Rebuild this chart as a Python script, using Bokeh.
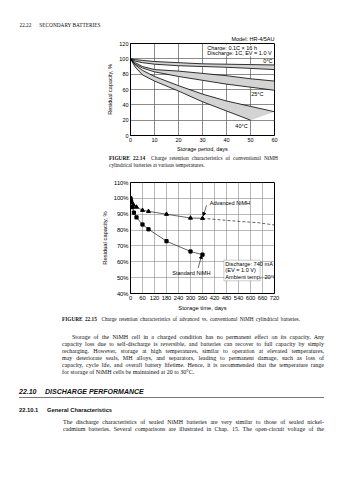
from bokeh.plotting import figure
from bokeh.models import Div, Label, Arrow, NormalHead, BoxAnnotation, FixedTicker, Range1d, Title
from bokeh.layouts import column
from bokeh.embed import file_html
from bokeh.resources import INLINE

# ---------------- Figure 22.14 data (conventional NiMH, HR-4/5AU) ----------------
days14 = [0, 2, 5, 10, 20, 30, 40, 50, 60]
t0_hi = [100, 99, 98, 96.5, 95, 93.5, 93, 92.5, 92]
t0_lo = [100, 97, 95, 93, 91, 90, 89, 87.5, 86]
t25_hi = [100, 95, 90, 86, 84, 81, 78, 74, 71]
t25_lo = [100, 93, 88, 83, 77, 72, 67, 63, 59]
t40_hi = [100, 92, 85, 77, 65, 54, 45, 38, 31]
days40_lo = [0, 2, 5, 10, 20, 30, 40, 50]
t40_lo = [100, 89, 79, 71, 58, 44, 32, 20]
x14_ticks = [0, 10, 20, 30, 40, 50, 60]
y14_ticks = [0, 20, 40, 60, 80, 100, 120]

# ---------------- Figure 22.15 data (advanced vs standard NiMH) ----------------
adv_days = [0, 7, 14, 30, 60, 90, 180, 300, 360]
adv_vals = [100, 97.5, 96, 94.5, 92.5, 91.8, 90, 87.6, 87.4]
adv_proj_days = [360, 510, 640, 720]
adv_proj_vals = [87.4, 85.8, 84.6, 83.2]
std_days = [0, 3, 10, 17, 30, 60, 90, 180, 300, 360]
std_vals = [100, 98, 94.5, 91, 88, 83.5, 80.5, 73, 66.5, 64.5]
x15_ticks = [0, 60, 120, 180, 240, 300, 360, 420, 480, 540, 600, 660, 720]
y15_ticks = [40, 50, 60, 70, 80, 90, 100, 110]
y15_labels = ["40%", "50%", "60%", "70%", "80%", "90%", "100%", "110%"]

# ---------------- page texts ----------------
header_text = "22.22\u2003\u2002SECONDARY BATTERIES"
cap14_num = "FIGURE 22.14"
cap14_l1 = "Charge retention characteristics of conventional NiMH"
cap14_l2 = "cylindrical batteries at various temperatures."
cap15_num = "FIGURE 22.15"
cap15_txt = "Charge retention characteristics of advanced vs. conventional NiMH cylindrical batteries."
body_lines = [
    "Storage of the NiMH cell in a charged condition has no permanent effect on its capacity. Any",
    "capacity loss due to self-discharge is reversible, and batteries can recover to full capacity by simply",
    "recharging. However, storage at high temperatures, similar to operation at elevated temperatures,",
    "may deteriorate seals, MH alloys, and separators, leading to permanent damage, such as loss of",
    "capacity, cycle life, and overall battery lifetime. Hence, it is recommended that the temperature range",
    "for storage of NiMH cells be maintained at 20 to 30\u00b0C.",
]
sec_num = "22.10"
sec_title = "DISCHARGE PERFORMANCE"
sub_num = "22.10.1"
sub_title = "General Characteristics"
para2_lines = [
    "The discharge characteristics of sealed NiMH batteries are very similar to those of sealed nickel-",
    "cadmium batteries. Several comparisons are illustrated in Chap. 15. The open-circuit voltage of the",
]

SANS = "Liberation Sans"
SERIF = "Liberation Serif"


def style_axes(p, fs):
    for ax in (p.xaxis, p.yaxis):
        ax.major_label_text_font = SANS
        ax.major_label_text_font_size = fs
        ax.major_label_text_color = "black"
        ax.axis_label_text_font = SANS
        ax.axis_label_text_font_size = fs
        ax.axis_label_text_font_style = "normal"
        ax.axis_label_text_color = "black"
        ax.major_tick_in = 0
        ax.major_tick_out = 0
        ax.minor_tick_line_color = None
        ax.axis_line_color = "black"
        ax.major_label_standoff = 2
        ax.axis_label_standoff = 3
    p.outline_line_color = "black"
    p.outline_line_width = 1


# ---------------- Figure 22.14 (also carries the running page header) ----------------
p1 = figure(width=342, height=154, x_range=Range1d(0, 60), y_range=Range1d(0, 120),
            output_backend="svg", toolbar_location=None,
            min_border_left=130, min_border_right=68, min_border_top=43, min_border_bottom=18)
p1.add_layout(Title(text="Model: HR-4/5AU", align="right", text_font=SANS, text_font_size="5.5px",
                    text_font_style="normal", text_color="black", standoff=4), "above")
p1.add_layout(Title(text=header_text, align="left", offset=-111, text_font=SERIF, text_font_size="5.3px",
                    text_font_style="normal", text_color="#111111", standoff=7), "above")
p1.xaxis.ticker = FixedTicker(ticks=x14_ticks)
p1.yaxis.ticker = FixedTicker(ticks=y14_ticks)
p1.xaxis.axis_label = "Storage period, days"
p1.yaxis.axis_label = "Residual capacity, %"
style_axes(p1, "5.5px")
p1.xaxis.axis_label_standoff = 1
p1.grid.grid_line_color = "#5a5a5a"
p1.grid.grid_line_width = 0.7

band = "#d3d3d3"
p1.varea(x=days14, y1=t0_lo, y2=t0_hi, fill_color=band)
p1.varea(x=days14, y1=t25_lo, y2=t25_hi, fill_color=band)
p1.patch(x=days14 + days40_lo[::-1], y=t40_hi + t40_lo[::-1], fill_color=band, line_color=None)
for xs, ys in [(days14, t0_hi), (days14, t0_lo), (days14, t25_hi), (days14, t25_lo),
               (days14, t40_hi), (days40_lo, t40_lo)]:
    p1.line(xs, ys, line_color="black", line_width=0.8)

lab = dict(text_font=SANS, text_font_size="5.5px", text_color="black")
p1.add_layout(Label(x=32, y=114.5, text="Charge: 0.1C \u00d7 16 h", text_align="left", text_baseline="middle",
                    background_fill_color="white", **lab))
p1.add_layout(Label(x=32, y=107.3, text="Discharge: 1C, EV = 1.0 V", text_align="left", text_baseline="middle",
                    background_fill_color="white", **lab))
p1.add_layout(Label(x=59.2, y=97, text="0\u00b0C", text_align="right", text_baseline="middle", **lab))
p1.add_layout(Label(x=55.4, y=54, text="25\u00b0C", text_align="right", text_baseline="middle", **lab))
p1.add_layout(Label(x=48.8, y=13, text="40\u00b0C", text_align="right", text_baseline="middle", **lab))

# ---------------- Figure 22.15 ----------------
p2 = figure(width=342, height=141, x_range=Range1d(0, 720), y_range=Range1d(40, 110),
            output_backend="svg", toolbar_location=None,
            min_border_left=90, min_border_right=24, min_border_top=10, min_border_bottom=18)
p2.xaxis.ticker = FixedTicker(ticks=x15_ticks)
p2.yaxis.ticker = FixedTicker(ticks=y15_ticks)
p2.yaxis.major_label_overrides = {t: s for t, s in zip(y15_ticks, y15_labels)}
p2.xaxis.axis_label = "Storage time, days"
p2.yaxis.axis_label = "Residual capacity, %"
style_axes(p2, "5.8px")
p2.xaxis.axis_label_standoff = 2
p2.grid.grid_line_color = "#8a8a8a"
p2.grid.grid_line_width = 0.6

p2.line(adv_days, adv_vals, line_color="#222222", line_width=0.7)
p2.line(adv_proj_days, adv_proj_vals, line_color="#222222", line_width=0.7, line_dash="3 2")
p2.scatter(adv_days, adv_vals, marker="triangle", size=4, color="black")
p2.line(std_days, std_vals, line_color="#222222", line_width=0.7)
p2.scatter(std_days, std_vals, marker="square", size=3.2, color="black")

lab2 = dict(text_font=SANS, text_font_size="5.6px", text_color="black")
p2.add_layout(Label(x=396, y=97, text="Advanced NiMH", text_align="left", text_baseline="middle", **lab2))
p2.add_layout(Arrow(x_start=380, y_start=95.6, x_end=364, y_end=89.0, line_width=0.6,
                    end=NormalHead(size=3, fill_color="black", line_color="black")))
p2.add_layout(Label(x=304, y=53.2, text="Standard NiMH", text_align="center", text_baseline="middle", **lab2))
p2.add_layout(Arrow(x_start=338, y_start=56, x_end=356, y_end=64, line_width=0.6,
                    end=NormalHead(size=3, fill_color="black", line_color="black")))
p2.add_layout(BoxAnnotation(left=467, right=648, bottom=48, top=61, fill_color="white", fill_alpha=1,
                            line_color="black", line_width=0.7))
for yy, tt in [(58.8, "Discharge: 740 mA"), (54.7, "(EV = 1.0 V)"), (50.3, "Ambient temp.: 20\u00b0C")]:
    p2.add_layout(Label(x=474, y=yy, text=tt, text_align="left", text_baseline="middle", **lab2))


# ---------------- page text blocks (normal flow; natural height == block height) ----------------
def seg(left, html, size, family, weight="normal", style="normal", width=None):
    w = (f"width:{width}px;text-align:justify;text-align-last:justify;" if width else "")
    return (f'<span style="position:absolute;left:{left}px;top:0;{w}font-size:{size}px;'
            f'line-height:{size}px;font-family:\'{family}\';font-weight:{weight};font-style:{style};'
            f'white-space:nowrap;color:#111;">{html}</span>')


def block(h, rows):
    out = ""
    cursor = 0.0
    for center, lh, segs in rows:
        top = center - lh / 2.0
        pad = max(0.0, top - cursor)
        out += (f'<div style="display:block;height:{pad:.2f}px;"></div>'
                f'<div style="display:block;position:relative;height:{lh}px;">{"".join(segs)}</div>')
        cursor = top + lh
    out += f'<div style="display:block;height:{max(0.0, h - cursor):.2f}px;"></div>'
    html = f'<div style="display:block;width:342px;height:{h}px;">{out}</div>'
    return Div(text=html, width=342, height=h, margin=0)


d_c14 = block(18, [(4.7, 5.4, [seg(109, f'<b>{cap14_num}</b>&nbsp;&nbsp;{cap14_l1}', 5.4, SERIF, width=169)]),
                   (12, 5.4, [seg(109, cap14_l2, 5.4, SERIF)])])

rows = [(6.3, 5.3, [seg(62, f'<b>{cap15_num}</b>&nbsp;&nbsp;{cap15_txt}', 5.3, SERIF, width=238)])]
for i, line in enumerate(body_lines):
    left = 72 if i == 0 else 62
    width = 252 if i == 0 else 262
    last = i == len(body_lines) - 1
    rows.append((24 + 7.1 * i, 6, [seg(left, line, 6, SERIF, width=None if last else width)]))
rows.append((79, 7, [seg(19, sec_num, 7, SANS, weight="bold", style="italic"),
                     seg(45, sec_title, 7, SANS, weight="bold", style="italic")]))
rows.append((85, 1, ['<span style="position:absolute;left:19px;top:0;width:305px;height:0;'
                     'border-top:1px solid #777;"></span>']))
rows.append((98, 5.8, [seg(19, sub_num, 5.8, SANS, weight="bold"),
                       seg(47, sub_title, 5.8, SANS, weight="bold")]))
for i, line in enumerate(para2_lines):
    rows.append((109 + 7.3 * i, 6, [seg(63, line, 6, SERIF, width=261)]))
d_body = block(151, rows)

layout = column([p1, d_c14, p2, d_body], spacing=0)

open("out.html", "w").write(file_html(layout, INLINE))
